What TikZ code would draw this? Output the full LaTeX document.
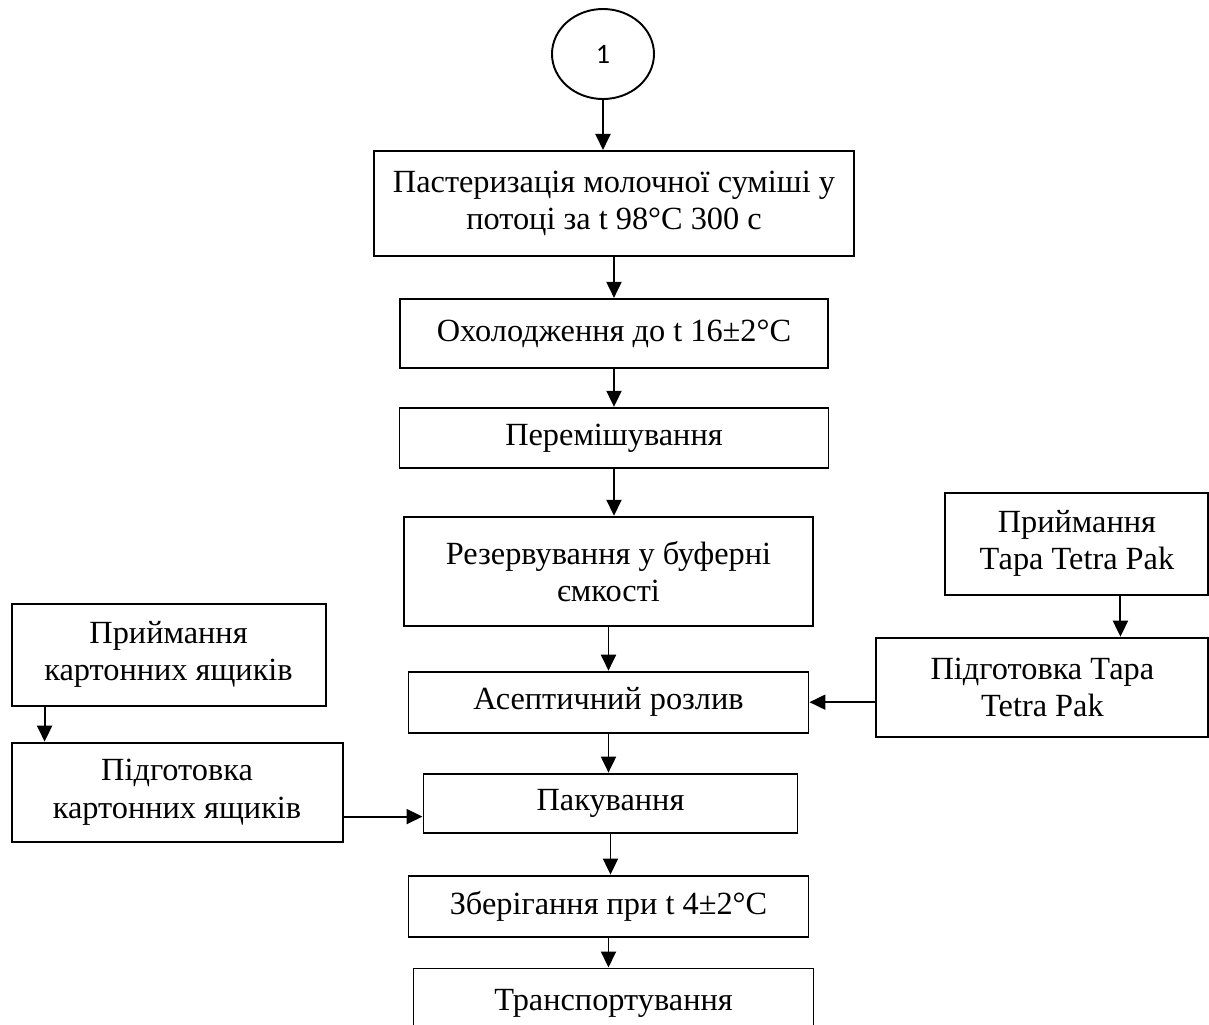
\documentclass[tikz,border=0pt]{standalone}
\usepackage{fontspec}
\setmainfont{Liberation Serif}
\newfontfamily\numfont{Carlito}
\usetikzlibrary{positioning,arrows.meta,shapes.geometric}

\begin{document}
\begin{tikzpicture}[
  box/.style={draw, line width=1.1pt, align=center, inner sep=0pt, font=\fontsize{18.4}{21.2}\selectfont},
  arrow/.style={-{Triangle[length=0.32cm,width=0.3cm]}, line width=1.1pt}
]
\useasboundingbox (-12.06,1.08) rectangle (12.12,-19.4);
\node[draw, ellipse, line width=1.1pt, minimum width=2.04cm, minimum height=1.8cm, font=\numfont\fontsize{16}{18}\selectfont] (one) at (0,0) {1};

\node[box, minimum width=9.6cm, minimum height=2.1cm, below=1.0cm of one, xshift=0.22cm] (pasteur) {Пастеризація молочної суміші у\\потоці за t 98°C 300 с};
\node[box, minimum width=8.56cm, minimum height=1.38cm, below=0.82cm of pasteur] (cool) {Охолодження до t 16±2°C};
\node[box, minimum width=8.58cm, minimum height=1.2cm, below=0.76cm of cool] (mix) {Перемішування};
\node[box, minimum width=8.18cm, minimum height=2.18cm, below=0.94cm of mix, xshift=-0.11cm] (buffer) {Резервування у буферні\\ємкості};
\node[box, minimum width=8.0cm, minimum height=1.22cm, below=0.88cm of buffer] (fill) {Асептичний розлив};
\node[box, minimum width=7.48cm, minimum height=1.18cm, below=0.78cm of fill, xshift=0.04cm] (pack) {Пакування};
\node[box, minimum width=8.0cm, minimum height=1.22cm, below=0.82cm of pack, xshift=-0.04cm] (store) {Зберігання при t 4±2°C};
\node[box, minimum width=8.0cm, minimum height=1.38cm, below=0.6cm of store, xshift=0.1cm] (trans) {Транспортування};

\node[box, minimum width=6.64cm, minimum height=1.98cm, right=1.32cm of fill, yshift=0.3cm] (tpprep) {Підготовка Тара\\Tetra Pak};
\node[box, minimum width=5.26cm, minimum height=2.04cm, above=0.82cm of tpprep, xshift=0.69cm] (tpin) {Приймання\\Тара Tetra Pak};

\node[box, minimum width=6.62cm, minimum height=1.98cm, left=1.58cm of pack, yshift=0.22cm] (boxprep) {Підготовка\\картонних ящиків};
\node[box, minimum width=6.28cm, minimum height=2.04cm, above=0.7cm of boxprep, xshift=-0.17cm] (boxin) {Приймання\\картонних ящиків};

\draw[arrow] (one) -- (one |- pasteur.north);
\draw[arrow] (pasteur.south) -- (pasteur.south |- cool.north);
\draw[arrow] (cool.south) -- (cool.south |- mix.north);
\draw[arrow] (mix.south) -- (mix.south |- buffer.north);
\draw[arrow] (buffer.south) -- (buffer.south |- fill.north);
\draw[arrow] (fill.south) -- (fill.south |- pack.north);
\draw[arrow] (pack.south) -- (pack.south |- store.north);
\draw[arrow] (store.south) -- (store.south |- trans.north);

\coordinate (tpdrop) at ([xshift=0.87cm]tpin.south);
\draw[arrow] (tpdrop) -- (tpdrop |- tpprep.north);
\draw[arrow] (tpprep.west |- fill.east) -- (fill.east);

\coordinate (bxdrop) at ([xshift=0.68cm]boxin.south west);
\draw[arrow] (bxdrop) -- (bxdrop |- boxprep.north);
\coordinate (packin) at ([yshift=-0.27cm]pack.west);
\draw[arrow] (boxprep.east |- packin) -- (packin);
\end{tikzpicture}
\end{document}
